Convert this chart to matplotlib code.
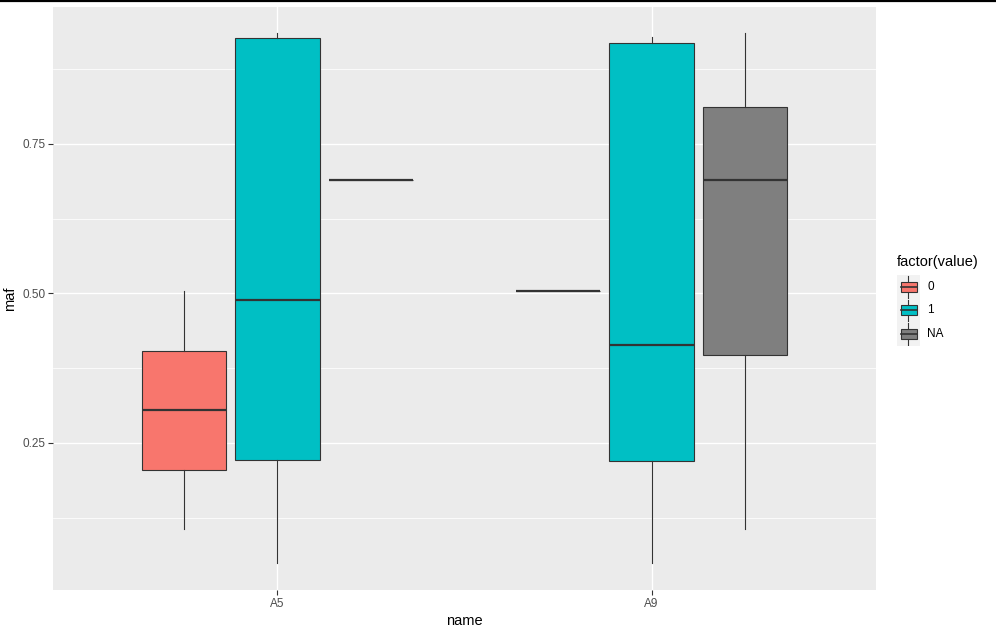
import matplotlib
matplotlib.use("Agg")
import matplotlib.pyplot as plt
from matplotlib.patches import Rectangle
from matplotlib.lines import Line2D

plt.rcParams['font.family'] = ['Liberation Sans', 'DejaVu Sans']

# ---- data ----
categories = ["A5", "A9"]
groups = ["0", "1", "NA"]
group_colors = ["#F8766D", "#00BFC4", "#7F7F7F"]
# stats per (category, group): whislo, q1, med, q3, whishi
A5_0 = [0.106, 0.205, 0.305, 0.4035, 0.504]
A5_1 = [0.0495, 0.221, 0.489, 0.927, 0.935]
A5_NA = [0.689, 0.689, 0.689, 0.689, 0.689]
A9_0 = [0.504, 0.504, 0.504, 0.504, 0.504]
A9_1 = [0.0495, 0.2196, 0.4135, 0.918, 0.929]
A9_NA = [0.106, 0.397, 0.689, 0.811, 0.936]
stats_table = {"A5": [A5_0, A5_1, A5_NA], "A9": [A9_0, A9_1, A9_NA]}
y_ticks = [0.25, 0.50, 0.75]
y_tick_labels = ["0.25", "0.50", "0.75"]
y_minor = [0.125, 0.375, 0.625, 0.875]

W, H = 996, 635
fig = plt.figure(figsize=(W / 100, H / 100), dpi=100)
fig.patch.set_facecolor("white")

def fx(px):
    return px / W

def fy(py):
    return 1 - py / H

# top black line (screenshot border)
fig.add_artist(Line2D([0, 1], [fy(1), fy(1)], color="black", lw=1.6, transform=fig.transFigure))

L, R, T, B = 53, 876, 7, 590
ax = fig.add_axes([fx(L), fy(B), fx(R - L), (B - T) / H])
ax.set_facecolor("#EBEBEB")
for s in ax.spines.values():
    s.set_visible(False)

ax.set_xlim(0.4, 2.6)
ax.set_ylim(0.0039, 0.979)

# grid
for v in y_minor:
    ax.axhline(v, color="white", lw=0.55, zorder=0.5)
for v in y_ticks:
    ax.axhline(v, color="white", lw=1.0, zorder=0.6)
for i in range(len(categories)):
    ax.axvline(i + 1, color="white", lw=1.0, zorder=0.6)

dodge = 0.25
bw = 0.225
for ci, cat in enumerate(categories):
    for gi, g in enumerate(groups):
        wl, q1, med, q3, wh = stats_table[cat][gi]
        st = [dict(whislo=wl, q1=q1, med=med, q3=q3, whishi=wh, fliers=[])]
        pos = ci + 1 + (gi - 1) * dodge
        ax.bxp(st, positions=[pos], widths=[bw], patch_artist=True,
               showcaps=False, showfliers=False, manage_ticks=False,
               boxprops=dict(facecolor=group_colors[gi], edgecolor="#333333", linewidth=0.8),
               medianprops=dict(color="#333333", linewidth=1.6, solid_capstyle="butt"),
               whiskerprops=dict(color="#333333", linewidth=0.8))

ax.set_xticks([1, 2])
ax.set_xticklabels(categories)
ax.set_yticks(y_ticks)
ax.set_yticklabels(y_tick_labels)
ax.tick_params(axis="both", length=3.5, width=0.8, color="#333333",
               labelcolor="#4D4D4D", labelsize=8.5, pad=2)
ax.set_xlabel("name", fontsize=10.5, color="black", labelpad=3)
ax.set_ylabel("maf", fontsize=10.5, color="black", labelpad=4)

# legend (ggplot-style)
fig.text(fx(897), fy(262.5), "factor(value)", fontsize=10.5, color="black",
         ha="left", va="center")
lx0, lx1, ly0, ly1 = 896.7, 920.0, 275.0, 345.5
lax = fig.add_axes([fx(lx0), fy(ly1), fx(lx1 - lx0), (ly1 - ly0) / H])
lax.set_xlim(lx0, lx1)
lax.set_ylim(ly1, ly0)
lax.set_facecolor("#F2F2F2")
lax.axis("off")
lax.add_patch(Rectangle((lx0, ly0), lx1 - lx0, ly1 - ly0, facecolor="#F2F2F2", edgecolor="none"))
key_h = (ly1 - ly0) / 3
for gi, g in enumerate(groups):
    cy = ly0 + key_h * (gi + 0.5)
    cx = (lx0 + lx1) / 2
    lax.plot([cx, cx], [cy - key_h / 2 + 1.0, cy + key_h / 2 - 1.0], color="#333333", lw=0.8)
    lax.add_patch(Rectangle((lx0 + 3.8, cy - 4.8), lx1 - lx0 - 7.2, 9.6,
                            facecolor=group_colors[gi], edgecolor="#333333", lw=0.8, zorder=3))
    lax.plot([lx0 + 3.8, lx1 - 3.4], [cy, cy], color="#333333", lw=1.2, zorder=4)
    fig.text(fx(927), fy(cy), g, fontsize=8.5, color="black", ha="left", va="center")

fig.savefig("out.png", dpi=100, facecolor="white")
